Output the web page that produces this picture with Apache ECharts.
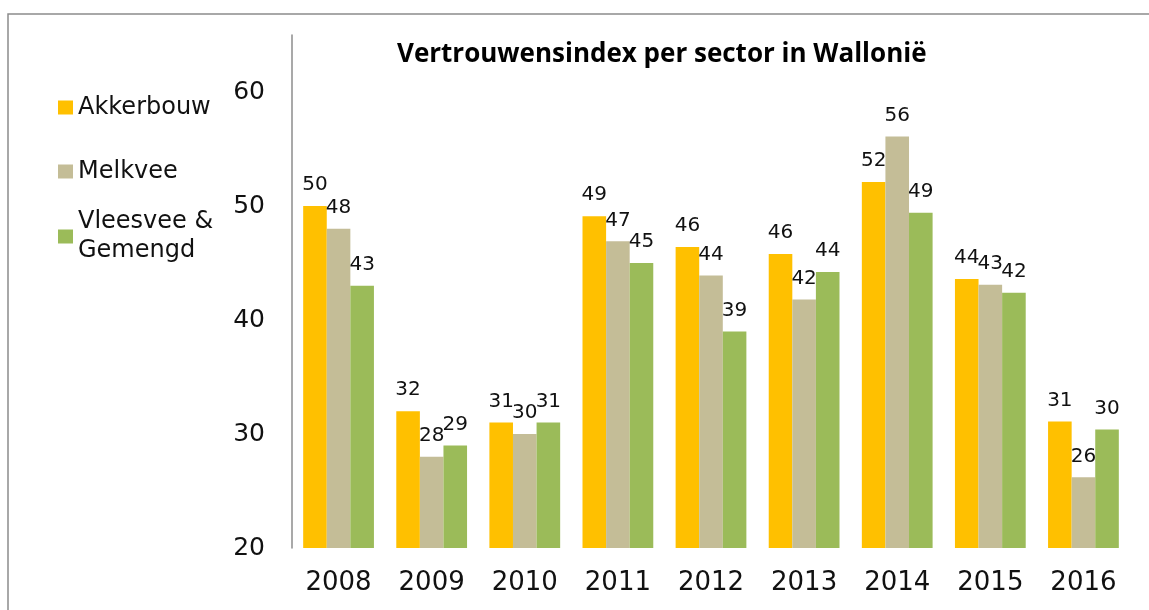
<!DOCTYPE html>
<html>
<head>
<meta charset="utf-8">
<script src="https://cdn.jsdelivr.net/npm/echarts@6/dist/echarts.min.js"></script>
<style>
  html, body { margin: 0; padding: 0; background: #fff; }
  #chart { width: 1149px; height: 610px; }
</style>
</head>
<body>
<div id="chart"></div>
<script>
const years = ['2008', '2009', '2010', '2011', '2012', '2013', '2014', '2015', '2016'];
const akkerbouw = [50.0, 32.0, 31.0, 49.1, 46.4, 45.8, 52.1, 43.6, 31.1];
const melkvee = [48.0, 28.0, 30.0, 46.9, 43.9, 41.8, 56.1, 43.1, 26.2];
const vleesvee = [43.0, 29.0, 31.0, 45.0, 39.0, 44.2, 49.4, 42.4, 30.4];

const seriesNames = ['Akkerbouw', 'Melkvee', 'Vleesvee & Gemengd'];
const colors = ['#FFC000', '#C4BD97', '#9BBB59'];

const chart = echarts.init(document.getElementById('chart'));

const baseFont = 'DejaVu Sans';

function legendFor(name, top, extra) {
  return Object.assign({
    data: [name],
    orient: 'vertical',
    left: 58,
    top: top,
    padding: 0,
    itemWidth: 15,
    itemHeight: 14,
    itemGap: 5,
    icon: 'rect',
    selectedMode: false,
    textStyle: {
      fontFamily: baseFont,
      fontSize: 24,
      lineHeight: 29,
      color: '#111'
    }
  }, extra || {});
}

function barSeries(name, values, color) {
  return {
    name: name,
    type: 'bar',
    data: values,
    barGap: '0%',
    barCategoryGap: '24%',
    itemStyle: { color: color },
    label: {
      show: true,
      position: 'top',
      distance: 11,
      fontFamily: baseFont,
      fontSize: 20,
      color: '#111',
      formatter: (p) => Math.round(p.value)
    }
  };
}

const option = {
  animation: false,
  title: {
    text: 'Vertrouwensindex per sector in Wallonië',
    left: 397,
    top: 42,
    padding: 0,
    textStyle: {
      fontFamily: 'Open Sans',
      fontWeight: 'bold',
      fontSize: 26,
      color: '#000'
    }
  },
  legend: [
    legendFor('Akkerbouw', 93),
    legendFor('Melkvee', 157),
    legendFor('Vleesvee & Gemengd', 193, {
      formatter: () => 'Vleesvee &\nGemengd',
      textStyle: {
        fontFamily: baseFont,
        fontSize: 24,
        lineHeight: 29,
        color: '#111',
        padding: [29, 0, 0, 0]
      }
    })
  ],
  grid: {
    left: 292,
    right: 19,
    top: 35,
    bottom: 62,
    containLabel: false
  },
  xAxis: {
    type: 'category',
    data: years,
    axisLine: { show: false },
    axisTick: { show: false },
    axisLabel: {
      fontFamily: baseFont,
      fontSize: 26,
      color: '#111',
      margin: 22
    }
  },
  yAxis: {
    type: 'value',
    min: 20,
    max: 65,
    interval: 10,
    splitLine: { show: false },
    axisLine: { show: true, lineStyle: { color: '#8c8c8c', width: 1.5 } },
    axisTick: { show: false },
    axisLabel: {
      fontFamily: baseFont,
      fontSize: 25,
      color: '#111',
      margin: 27,
      showMaxLabel: false
    }
  },
  graphic: [{
    type: 'rect',
    shape: { x: 8, y: 14, width: 1300, height: 800 },
    style: { fill: 'none', stroke: '#8c8c8c', lineWidth: 1.5 },
    silent: true
  }],
  series: [
    barSeries(seriesNames[0], akkerbouw, colors[0]),
    barSeries(seriesNames[1], melkvee, colors[1]),
    barSeries(seriesNames[2], vleesvee, colors[2])
  ]
};

chart.setOption(option);
</script>
</body>
</html>
